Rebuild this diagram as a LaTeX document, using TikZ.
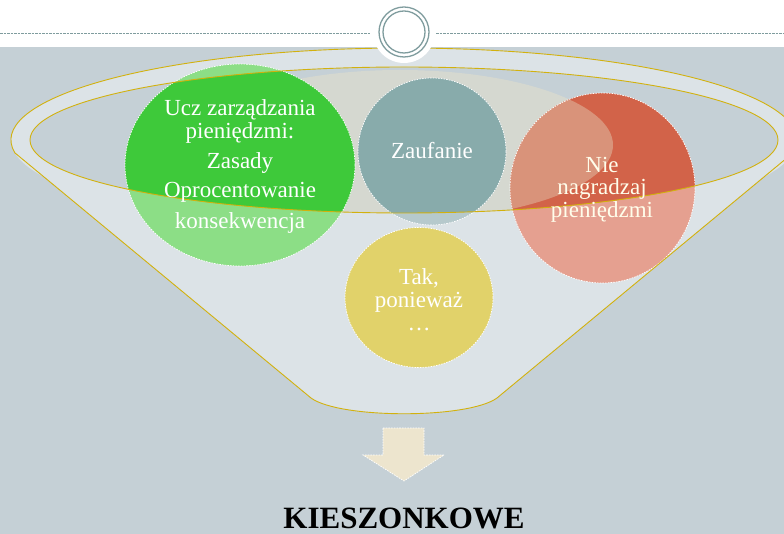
\documentclass[tikz,border=0pt]{standalone}
\usepackage{fontspec}
\setmainfont{Liberation Serif}
\usetikzlibrary{positioning}

\definecolor{bandgray}{HTML}{C5D0D6}
\definecolor{funnelfill}{HTML}{DCE3E7}
\definecolor{rimgold}{HTML}{D2B10E}
\definecolor{ringteal}{HTML}{7F9C9E}
\definecolor{beigeglow}{HTML}{D5D8D0}
\definecolor{greendark}{HTML}{3EC93A}
\definecolor{greenlight}{HTML}{8CDE86}
\definecolor{tealdark}{HTML}{88ABAB}
\definecolor{teallight}{HTML}{B6C9CC}
\definecolor{reddark}{HTML}{D26349}
\definecolor{redlight}{HTML}{E5A090}
\definecolor{redglow}{HTML}{D9937A}
\definecolor{yellowfill}{HTML}{E1D26A}
\definecolor{arrowfill}{HTML}{EDE5CE}

\tikzset{
	bubbleline/.style={draw=white, line width=0.7pt, dash pattern=on 1.6pt off 1.1pt},
	bubbletext/.style={text=white, inner sep=0pt, align=center, font=\fontsize{23}{23}\selectfont},
	rimline/.style={rimgold, line width=0.9pt},
}

\begin{document}
\begin{tikzpicture}[x=1pt, y=-1pt]

	\useasboundingbox (0,0) rectangle (784,534);
	\fill[white] (0,0) rectangle (784,47);
	\fill[bandgray] (0,47) rectangle (784,534);
	\draw[ringteal, line width=1pt, dash pattern=on 2.5pt off 1pt] (0,34) -- (371,34);
	\draw[ringteal, line width=1pt, dash pattern=on 2.5pt off 1pt] (436,34) -- (784,34);

	% funnel body
	\fill[funnelfill] (404,140) ellipse [x radius=393, y radius=92];
	\fill[funnelfill] (14.8,152.8) -- (311,398) .. controls (340,419) and (468,419) .. (497,398) -- (793,152.8) -- cycle;
	\fill[bandgray] (404,140) ellipse [x radius=374, y radius=73];
	\begin{scope}
		\clip (404,140) ellipse [x radius=374, y radius=73];
		\fill[beigeglow] (400,145) ellipse [x radius=213, y radius=75];
	\end{scope}

	% bubbles, seen through the funnel
	\fill[greenlight] (240,165) ellipse [x radius=115, y radius=101];
	\fill[teallight] (432,151.5) ellipse [x radius=74, y radius=73.5];
	\fill[redlight] (602.5,188) ellipse [x radius=92.5, y radius=95];
	\fill[yellowfill] (419,297.5) ellipse [x radius=74, y radius=70];

	% bubbles inside the opening
	\begin{scope}
		\clip (404,140) ellipse [x radius=374, y radius=73];
		\fill[reddark] (602.5,188) ellipse [x radius=92.5, y radius=95];
		\begin{scope}
			\clip (400,145) ellipse [x radius=213, y radius=75];
			\fill[redglow] (602.5,188) ellipse [x radius=92.5, y radius=95];
		\end{scope}
		\fill[greendark] (240,165) ellipse [x radius=115, y radius=101];
		\fill[tealdark] (432,151.5) ellipse [x radius=74, y radius=73.5];
	\end{scope}

	\draw[bubbleline] (240,165) ellipse [x radius=115, y radius=101];
	\draw[bubbleline] (432,151.5) ellipse [x radius=74, y radius=73.5];
	\draw[bubbleline] (602.5,188) ellipse [x radius=92.5, y radius=95];
	\draw[bubbleline] (419,297.5) ellipse [x radius=74, y radius=70];

	% funnel outline
	\draw[rimline] (404,140) ellipse [x radius=374, y radius=73];
	\draw[rimline] (14.8,152.8) arc [start angle=172, end angle=368, x radius=393, y radius=92]
		-- (497,398) .. controls (468,419) and (340,419) .. (311,398) -- cycle;

	\node[bubbletext] (rules) at (240,166.2) {Ucz zarządzania\\pieniędzmi:\\[7pt]Zasady\\[6pt]Oprocentowanie\\[8pt]konsekwencja};
	\node[bubbletext, anchor=base] (trust) at (432,159) {Zaufanie};
	\node[bubbletext, text=white!92!yellow, font=\fontsize{23}{22.5}\selectfont] (noreward) at (602,189.4) {Nie\\nagradzaj\\pieniędzmi};
	\node[bubbletext] (because) at (419,299.7) {Tak,\\ponieważ\\…};

	% arrow and result
	\path[bubbleline, fill=arrowfill] (383,428) -- (424,428) -- (424,455) -- (444,455) -- (404,481) -- (363,455) -- (383,455) -- cycle;
	\node[anchor=base, inner sep=0pt, font=\bfseries\fontsize{31}{31}\selectfont] (pocket) at (404,528) {KIESZONKOWE};

	% top ornament
	\fill[white] (404,32) circle [radius=31];
	\draw[ringteal, line width=1.3pt] (404,32) circle [radius=25];
	\draw[ringteal, line width=1.3pt] (404,32) circle [radius=21];

\end{tikzpicture}
\end{document}
